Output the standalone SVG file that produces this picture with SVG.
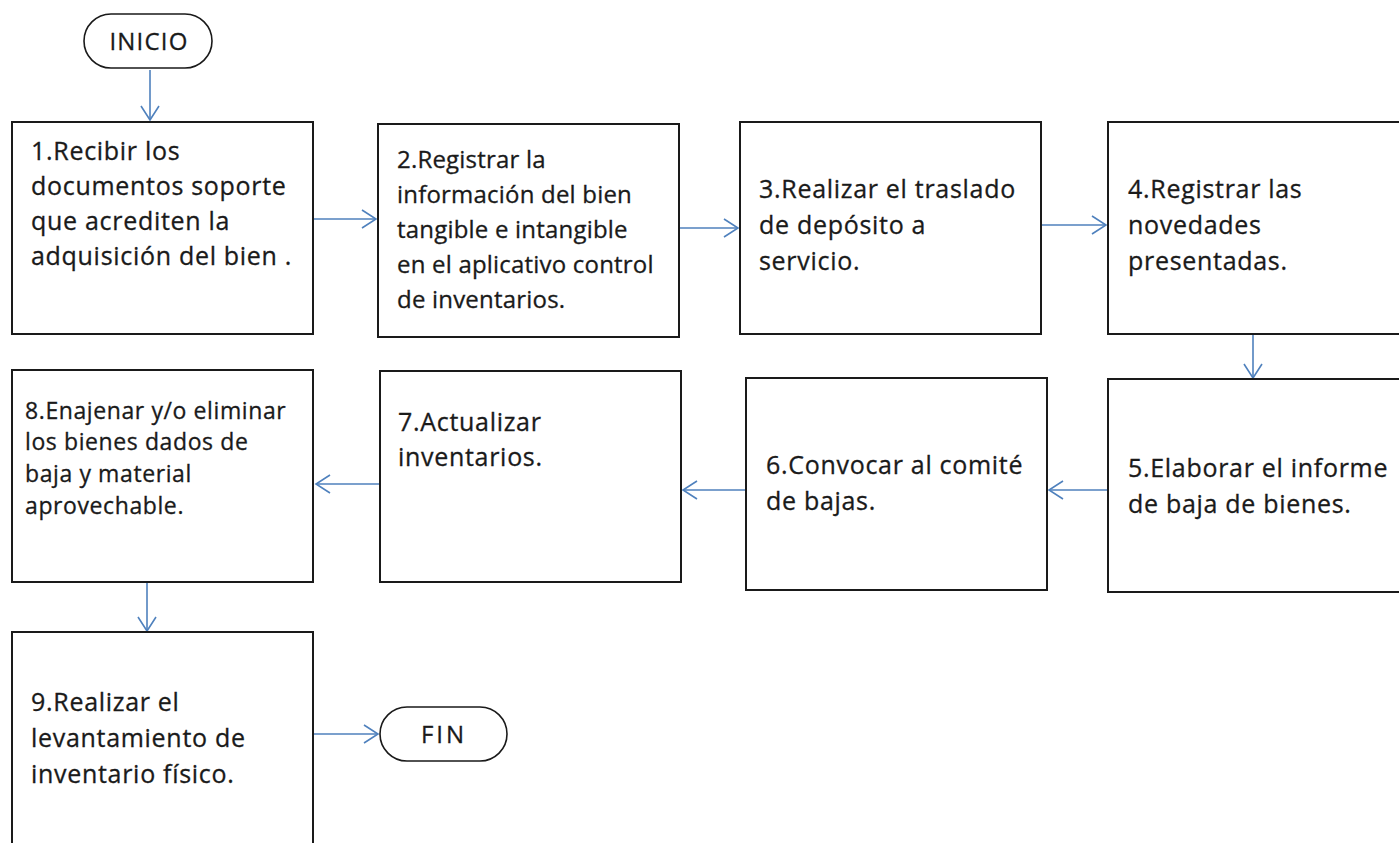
<svg xmlns="http://www.w3.org/2000/svg" width="1399" height="843" viewBox="0 0 1399 843">
<defs>
<style>
.box{fill:#fff;stroke:#1a1a1a;stroke-width:2}
.term{fill:#fff;stroke:#1a1a1a;stroke-width:1.6}
.t{font-family:"Open Sans","Liberation Sans",sans-serif;font-size:25px;letter-spacing:0.7px;fill:#1a1a1a;stroke:#1a1a1a;stroke-width:0.3px}
.m{font-size:24px;letter-spacing:0.2px}
.s{font-size:23px;letter-spacing:0.6px}
.c{text-anchor:middle;font-size:24px;letter-spacing:1.2px}
.f{letter-spacing:3px}
.con{fill:none;stroke:#4f81bd;stroke-width:1.6;marker-end:url(#ah)}
</style>
<marker id="ah" markerUnits="userSpaceOnUse" markerWidth="20" markerHeight="24" viewBox="0 0 20 24" refX="15" refY="10" orient="auto">
<path d="M1,1 L15,10 L1,19" fill="none" stroke="#4f81bd" stroke-width="1.6"/>
</marker>
</defs>
<rect width="1399" height="843" fill="#fff"/>
<g id="connectors">
<path class="con" d="M150,70 L150,120"/>
<path class="con" d="M313,219 L376,219"/>
<path class="con" d="M679,228 L738,228"/>
<path class="con" d="M1041,225 L1106,225"/>
<path class="con" d="M1253,335 L1253,378"/>
<path class="con" d="M1108,490 L1049,490"/>
<path class="con" d="M746,490 L683,490"/>
<path class="con" d="M380,484 L316,484"/>
<path class="con" d="M147,583 L147,631"/>
<path class="con" d="M313,734 L378,734"/>
</g>
<g id="inicio">
<rect class="term" x="84" y="14" width="128" height="54" rx="27" ry="27"/>
<text class="t c" x="149" y="50">INICIO</text>
</g>
<g id="n1">
<rect class="box" x="12" y="122" width="301" height="212"/>
<text class="t"><tspan x="31" y="160">1.Recibir los</tspan><tspan x="31" y="195">documentos soporte</tspan><tspan x="31" y="230">que acrediten la</tspan><tspan x="31" y="265">adquisición del bien .</tspan></text>
</g>
<g id="n2">
<rect class="box" x="378" y="124" width="301" height="213"/>
<text class="t m"><tspan x="397" y="168">2.Registrar la</tspan><tspan x="397" y="203">información  del bien</tspan><tspan x="397" y="238">tangible e intangible</tspan><tspan x="397" y="273">en el aplicativo control</tspan><tspan x="397" y="308">de inventarios.</tspan></text>
</g>
<g id="n3">
<rect class="box" x="740" y="122" width="301" height="212"/>
<text class="t"><tspan x="759" y="198">3.Realizar el traslado</tspan><tspan x="759" y="234">de depósito a</tspan><tspan x="759" y="270">servicio.</tspan></text>
</g>
<g id="n4">
<rect class="box" x="1108" y="122" width="300" height="212"/>
<text class="t"><tspan x="1128" y="198">4.Registrar las</tspan><tspan x="1128" y="234">novedades</tspan><tspan x="1128" y="270">presentadas.</tspan></text>
</g>
<g id="n5">
<rect class="box" x="1108" y="379" width="300" height="213"/>
<text class="t"><tspan x="1128" y="477">5.Elaborar el informe</tspan><tspan x="1128" y="513">de baja de bienes.</tspan></text>
</g>
<g id="n6">
<rect class="box" x="746" y="378" width="301" height="212"/>
<text class="t"><tspan x="766" y="474">6.Convocar al comité</tspan><tspan x="766" y="510">de bajas.</tspan></text>
</g>
<g id="n7">
<rect class="box" x="380" y="371" width="301" height="211"/>
<text class="t"><tspan x="398" y="431">7.Actualizar</tspan><tspan x="398" y="466">inventarios.</tspan></text>
</g>
<g id="n8">
<rect class="box" x="12" y="370" width="301" height="212"/>
<text class="t s"><tspan x="25" y="419">8.Enajenar y/o eliminar</tspan><tspan x="25" y="450">los bienes dados de</tspan><tspan x="25" y="482">baja y material</tspan><tspan x="25" y="514">aprovechable.</tspan></text>
</g>
<g id="n9">
<rect class="box" x="12" y="632" width="301" height="230"/>
<text class="t"><tspan x="31" y="711">9.Realizar el</tspan><tspan x="31" y="747">levantamiento de</tspan><tspan x="31" y="783">inventario físico.</tspan></text>
</g>
<g id="fin">
<rect class="term" x="380" y="707" width="127" height="54" rx="27" ry="27"/>
<text class="t c f" x="444" y="743">FIN</text>
</g>
</svg>
